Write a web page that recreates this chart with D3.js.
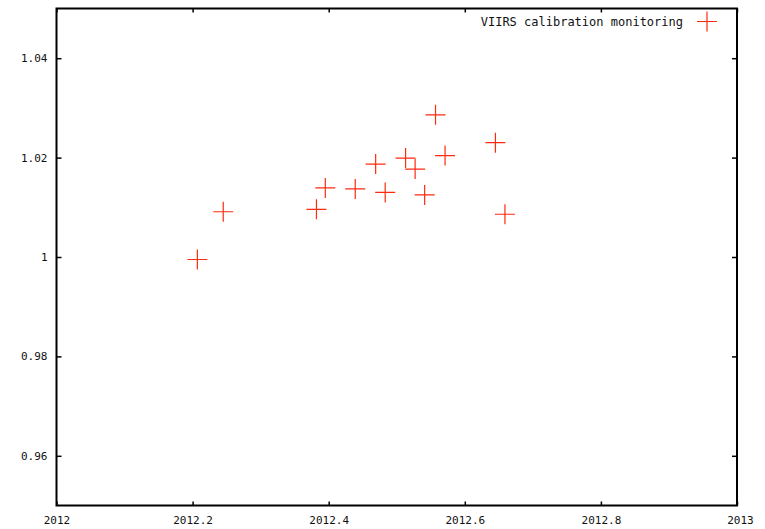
<!DOCTYPE html>
<html>
<head>
<meta charset="utf-8">
<script src="https://cdn.jsdelivr.net/npm/d3@7"></script>
<style>
  body { margin: 0; background: #fff; }
  text { font-family: "DejaVu Sans Mono", monospace; fill: #111; }
</style>
</head>
<body>
<svg id="chart" width="765" height="529"></svg>
<script>
// decimal year of each calibration
const years = [2012.207, 2012.245, 2012.382, 2012.395, 2012.439, 2012.469, 2012.483,
  2012.513, 2012.527, 2012.541, 2012.557, 2012.571, 2012.645, 2012.659];
// calibration ratio
const ratios = [0.9995, 1.0091, 1.0096, 1.0139, 1.0137, 1.0187, 1.0130,
  1.0199, 1.0177, 1.0125, 1.0286, 1.0204, 1.0230, 1.0086];
const xTicks = [2012, 2012.2, 2012.4, 2012.6, 2012.8, 2013];
const yTicks = [0.96, 0.98, 1, 1.02, 1.04];
const seriesName = "VIIRS calibration monitoring";

const margin = { top: 8.5, right: 28, bottom: 23.5, left: 56.5 };
const width = 765 - margin.left - margin.right;
const height = 529 - margin.top - margin.bottom;

const svg = d3.select("#chart");
const chart = svg.append("g").attr("transform", `translate(${margin.left},${margin.top})`);

const x = d3.scaleLinear().domain([2012, 2013]).range([0, width]);
const y = d3.scaleLinear().domain([0.95, 1.05]).range([height, 0]);

const fmt = d => String(+d.toFixed(2));

// bottom / left axes with inward ticks
const xAxis = chart.append("g").attr("transform", `translate(0,${height})`)
  .call(d3.axisBottom(x).tickValues(xTicks).tickSize(-4).tickPadding(11).tickFormat(fmt));
const yAxis = chart.append("g")
  .call(d3.axisLeft(y).tickValues(yTicks).tickSize(-5).tickPadding(9).tickFormat(fmt));
// mirrored ticks on top / right
chart.append("g")
  .call(d3.axisTop(x).tickValues(xTicks).tickSize(-4).tickFormat(""));
chart.append("g").attr("transform", `translate(${width},0)`)
  .call(d3.axisRight(y).tickValues(yTicks).tickSize(-5).tickFormat(""));

chart.selectAll(".domain").remove();
chart.selectAll(".tick line").attr("stroke", "#000").attr("stroke-width", 1.5);
xAxis.selectAll("text").attr("font-size", 11).attr("dy", "0.71em");
yAxis.selectAll("text").attr("font-size", 11);
xAxis.selectAll(".tick text").filter(d => d === 2013).attr("dx", 3);

chart.append("rect")
  .attr("width", width).attr("height", height)
  .attr("fill", "none").attr("stroke", "#000").attr("stroke-width", 2);

const crossPath = s => `M${-s},0H${s}M0,${-s}V${s}`;

chart.selectAll("path.pt")
  .data(years.map((yr, i) => ({ yr, r: ratios[i] })))
  .join("path")
  .attr("class", "pt")
  .attr("transform", d => `translate(${x(d.yr)},${y(d.r)})`)
  .attr("d", crossPath(10))
  .attr("stroke", "#ff2a10")
  .attr("stroke-width", 1.2)
  .attr("fill", "none");

// legend
const legend = chart.append("g").attr("transform", `translate(${width - 30},${13})`);
legend.append("text")
  .attr("x", -24).attr("y", 4)
  .attr("text-anchor", "end")
  .attr("font-size", 12)
  .text(seriesName);
legend.append("path")
  .attr("d", crossPath(10))
  .attr("stroke", "#ff2a10")
  .attr("stroke-width", 1.2)
  .attr("fill", "none");
</script>
</body>
</html>
